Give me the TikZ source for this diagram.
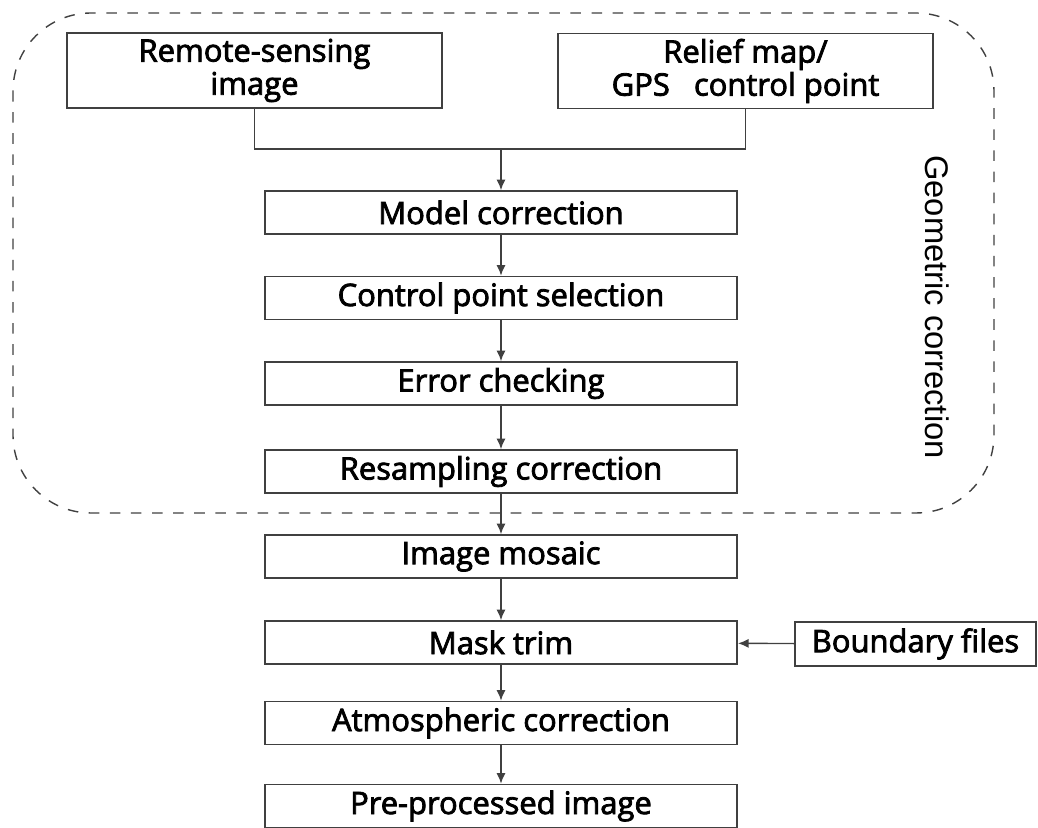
\documentclass[tikz,border=0pt]{standalone}
\usepackage{fontspec}
\setmainfont{Open Sans}[BoldFont={Open Sans}, BoldFeatures={FakeBold=2.6}]
\newfontfamily\labelfont{Liberation Sans}
\usetikzlibrary{arrows.meta,positioning}
\definecolor{edgegray}{RGB}{64,64,64}

\begin{document}
\begin{tikzpicture}[x=0.01cm, y=-0.01cm,
    box/.style={draw=edgegray, line width=0.5pt, minimum width=4.72cm, minimum height=0.43cm,
        inner sep=0pt, font=\bfseries\fontsize{8.8}{9.4}\selectfont},
    srcbox/.style={box, minimum width=3.75cm, minimum height=0.75cm, align=center},
    flow/.style={draw=edgegray, line width=0.4pt, -{Latex[length=3pt,width=2.6pt]}}]
    \useasboundingbox (0,0) rectangle (1038,828);

    % Geometric correction group
    \draw[edgegray, dashed, line width=0.4pt, rounded corners=0.78cm] (13,13) rectangle (994,513);
    \node[rotate=-90, font=\labelfont\fontsize{9.3}{10}\selectfont] (geolabel) at (937,307) {Geometric correction};

    % Inputs
    \node[srcbox] (remote) at (254.5,70.5) {Remote-sensing\\image};
    \node[srcbox] (relief) at (745.5,71) {Relief map/\\GPS\ \ \ control point};
    \coordinate (join) at (501,149);
    \draw[edgegray, line width=0.4pt] (remote.south) |- (join) -| (relief.south);

    % Correction steps
    \node[box] (model) at (501,212.5) {Model correction};
    \node[box] (ctrlpt) at (501,298) {Control point selection};
    \node[box] (errcheck) at (501,383.5) {Error checking};
    \node[box] (resample) at (501,471.5) {Resampling correction};

    % Later steps
    \node[box] (mosaic) at (501,556.5) {Image mosaic};
    \node[box] (mask) at (501,642.5) {Mask trim};
    \node[box] (atmos) at (501,723) {Atmospheric correction};
    \node[box] (preproc) at (501,806) {Pre-processed image};
    \node[box, minimum width=2.41cm, minimum height=0.44cm] (boundary) at (915.5,644) {Boundary files};

    % Arrows
    \draw[flow] (join) -- (model.north);
    \draw[flow] (model) -- (ctrlpt);
    \draw[flow] (ctrlpt) -- (errcheck);
    \draw[flow] (errcheck) -- (resample);
    \draw[flow] (resample) -- (mosaic);
    \draw[flow] (mosaic) -- (mask);
    \draw[flow] (mask) -- (atmos);
    \draw[flow] (atmos) -- (preproc);
    \draw[flow] (boundary) -- (mask);
\end{tikzpicture}
\end{document}
